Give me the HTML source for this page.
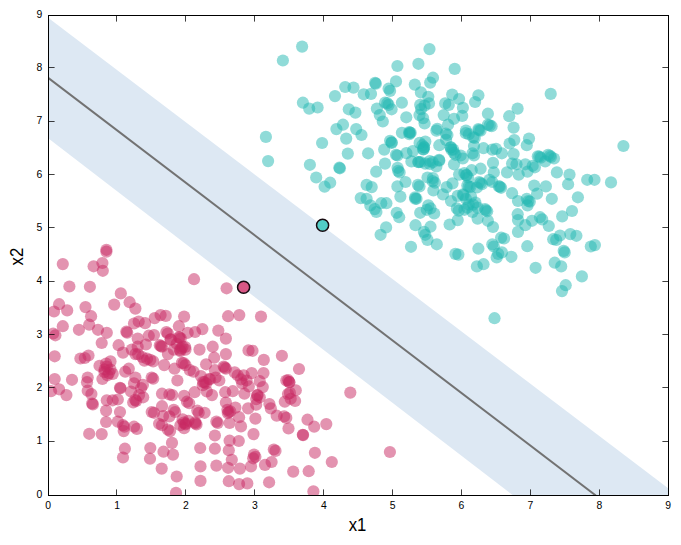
<!DOCTYPE html><html><head><meta charset="utf-8"><style>html,body{margin:0;padding:0;background:#fff}svg{display:block}text{font-family:"Liberation Sans",sans-serif;fill:#000}</style></head><body>
<svg width="681" height="545" viewBox="0 0 681 545">
<rect width="681" height="545" fill="#fff"/>
<defs><clipPath id="c"><rect x="48.5" y="15.5" width="620.0" height="480.0"/></clipPath></defs>
<g clip-path="url(#c)">
<polygon points="48.5,18 668.5,488.4 668.5,495.5 513.2,495.5 48.5,138.6" fill="#dde8f3"/>
<line x1="48.5" y1="78.1" x2="595.8" y2="495.5" stroke="#727272" stroke-width="2.0"/>
<g fill="#c82762" fill-opacity="0.5">
<circle cx="106.4" cy="249.8" r="6.1"/>
<circle cx="106.4" cy="251.7" r="6.1"/>
<circle cx="62.8" cy="264.1" r="6.1"/>
<circle cx="93.6" cy="266.3" r="6.1"/>
<circle cx="102.4" cy="263.0" r="6.1"/>
<circle cx="102.8" cy="270.8" r="6.1"/>
<circle cx="69.4" cy="286.5" r="6.1"/>
<circle cx="89.9" cy="286.8" r="6.1"/>
<circle cx="120.8" cy="293.4" r="6.1"/>
<circle cx="59.1" cy="304.2" r="6.1"/>
<circle cx="85.5" cy="307.1" r="6.1"/>
<circle cx="114.2" cy="304.6" r="6.1"/>
<circle cx="129.6" cy="302.2" r="6.1"/>
<circle cx="135.4" cy="308.6" r="6.1"/>
<circle cx="194.0" cy="279.2" r="6.1"/>
<circle cx="226.6" cy="288.3" r="6.1"/>
<circle cx="54.0" cy="311.5" r="6.1"/>
<circle cx="67.2" cy="310.4" r="6.1"/>
<circle cx="91.1" cy="316.2" r="6.1"/>
<circle cx="62.8" cy="326.2" r="6.1"/>
<circle cx="78.9" cy="329.8" r="6.1"/>
<circle cx="89.2" cy="324.7" r="6.1"/>
<circle cx="98.0" cy="329.8" r="6.1"/>
<circle cx="106.8" cy="332.8" r="6.1"/>
<circle cx="53.2" cy="333.5" r="6.1"/>
<circle cx="55.4" cy="335.3" r="6.1"/>
<circle cx="126.3" cy="331.7" r="6.1"/>
<circle cx="127.2" cy="332.6" r="6.1"/>
<circle cx="138.7" cy="321.5" r="6.1"/>
<circle cx="134.0" cy="323.5" r="6.1"/>
<circle cx="101.7" cy="343.0" r="6.1"/>
<circle cx="118.6" cy="345.2" r="6.1"/>
<circle cx="123.0" cy="352.6" r="6.1"/>
<circle cx="54.7" cy="356.3" r="6.1"/>
<circle cx="80.4" cy="358.5" r="6.1"/>
<circle cx="84.8" cy="358.0" r="6.1"/>
<circle cx="88.5" cy="355.5" r="6.1"/>
<circle cx="137.7" cy="338.6" r="6.1"/>
<circle cx="131.8" cy="349.6" r="6.1"/>
<circle cx="135.4" cy="354.1" r="6.1"/>
<circle cx="137.7" cy="346.7" r="6.1"/>
<circle cx="99.5" cy="365.8" r="6.1"/>
<circle cx="106.1" cy="363.6" r="6.1"/>
<circle cx="110.5" cy="361.4" r="6.1"/>
<circle cx="104.6" cy="369.5" r="6.1"/>
<circle cx="110.5" cy="369.5" r="6.1"/>
<circle cx="107.5" cy="375.3" r="6.1"/>
<circle cx="112.7" cy="373.9" r="6.1"/>
<circle cx="102.4" cy="379.0" r="6.1"/>
<circle cx="106.8" cy="366.5" r="6.1"/>
<circle cx="109.0" cy="373.1" r="6.1"/>
<circle cx="120.5" cy="388.3" r="6.1"/>
<circle cx="125.2" cy="371.7" r="6.1"/>
<circle cx="128.8" cy="368.7" r="6.1"/>
<circle cx="54.7" cy="379.0" r="6.1"/>
<circle cx="72.0" cy="379.8" r="6.1"/>
<circle cx="87.7" cy="377.5" r="6.1"/>
<circle cx="87.0" cy="382.2" r="6.1"/>
<circle cx="120.0" cy="387.8" r="6.1"/>
<circle cx="135.4" cy="377.5" r="6.1"/>
<circle cx="134.0" cy="383.4" r="6.1"/>
<circle cx="59.1" cy="389.3" r="6.1"/>
<circle cx="145.1" cy="323.2" r="6.1"/>
<circle cx="154.7" cy="318.1" r="6.1"/>
<circle cx="160.6" cy="315.1" r="6.1"/>
<circle cx="165.7" cy="315.9" r="6.1"/>
<circle cx="184.1" cy="316.6" r="6.1"/>
<circle cx="178.9" cy="326.2" r="6.1"/>
<circle cx="228.1" cy="316.2" r="6.1"/>
<circle cx="166.4" cy="332.0" r="6.1"/>
<circle cx="167.9" cy="333.5" r="6.1"/>
<circle cx="195.1" cy="332.0" r="6.1"/>
<circle cx="202.4" cy="329.1" r="6.1"/>
<circle cx="187.7" cy="332.8" r="6.1"/>
<circle cx="218.3" cy="330.6" r="6.1"/>
<circle cx="225.9" cy="338.6" r="6.1"/>
<circle cx="148.8" cy="335.7" r="6.1"/>
<circle cx="154.0" cy="335.0" r="6.1"/>
<circle cx="145.9" cy="344.5" r="6.1"/>
<circle cx="159.8" cy="345.2" r="6.1"/>
<circle cx="162.0" cy="346.7" r="6.1"/>
<circle cx="178.9" cy="337.2" r="6.1"/>
<circle cx="176.7" cy="343.8" r="6.1"/>
<circle cx="182.6" cy="346.7" r="6.1"/>
<circle cx="180.4" cy="351.1" r="6.1"/>
<circle cx="185.5" cy="349.6" r="6.1"/>
<circle cx="173.8" cy="349.6" r="6.1"/>
<circle cx="170.8" cy="339.4" r="6.1"/>
<circle cx="167.9" cy="354.1" r="6.1"/>
<circle cx="199.5" cy="349.6" r="6.1"/>
<circle cx="212.7" cy="346.7" r="6.1"/>
<circle cx="225.9" cy="354.1" r="6.1"/>
<circle cx="214.2" cy="357.7" r="6.1"/>
<circle cx="206.1" cy="364.3" r="6.1"/>
<circle cx="142.2" cy="357.0" r="6.1"/>
<circle cx="144.4" cy="360.7" r="6.1"/>
<circle cx="150.3" cy="359.9" r="6.1"/>
<circle cx="153.2" cy="361.4" r="6.1"/>
<circle cx="164.2" cy="365.1" r="6.1"/>
<circle cx="174.5" cy="368.7" r="6.1"/>
<circle cx="181.9" cy="362.9" r="6.1"/>
<circle cx="185.5" cy="365.1" r="6.1"/>
<circle cx="189.9" cy="370.2" r="6.1"/>
<circle cx="193.6" cy="371.7" r="6.1"/>
<circle cx="223.7" cy="366.5" r="6.1"/>
<circle cx="225.9" cy="368.7" r="6.1"/>
<circle cx="214.9" cy="370.2" r="6.1"/>
<circle cx="151.7" cy="377.5" r="6.1"/>
<circle cx="153.2" cy="378.7" r="6.1"/>
<circle cx="177.4" cy="380.5" r="6.1"/>
<circle cx="200.9" cy="376.1" r="6.1"/>
<circle cx="234.7" cy="372.4" r="6.1"/>
<circle cx="237.7" cy="375.3" r="6.1"/>
<circle cx="203.1" cy="382.0" r="6.1"/>
<circle cx="206.1" cy="383.4" r="6.1"/>
<circle cx="209.0" cy="379.0" r="6.1"/>
<circle cx="215.6" cy="377.5" r="6.1"/>
<circle cx="219.3" cy="380.5" r="6.1"/>
<circle cx="142.9" cy="384.9" r="6.1"/>
<circle cx="179.6" cy="337.6" r="6.1"/>
<circle cx="180.8" cy="338.6" r="6.1"/>
<circle cx="181.4" cy="348.5" r="6.1"/>
<circle cx="179.9" cy="349.9" r="6.1"/>
<circle cx="160.9" cy="346.1" r="6.1"/>
<circle cx="204.6" cy="382.2" r="6.1"/>
<circle cx="224.7" cy="367.6" r="6.1"/>
<circle cx="239.3" cy="315.1" r="6.1"/>
<circle cx="261.0" cy="316.6" r="6.1"/>
<circle cx="248.5" cy="350.4" r="6.1"/>
<circle cx="252.5" cy="350.8" r="6.1"/>
<circle cx="263.8" cy="359.9" r="6.1"/>
<circle cx="281.9" cy="355.8" r="6.1"/>
<circle cx="299.0" cy="369.0" r="6.1"/>
<circle cx="251.7" cy="373.1" r="6.1"/>
<circle cx="263.5" cy="373.1" r="6.1"/>
<circle cx="243.7" cy="375.3" r="6.1"/>
<circle cx="286.3" cy="380.5" r="6.1"/>
<circle cx="289.2" cy="382.0" r="6.1"/>
<circle cx="288.2" cy="380.2" r="6.1"/>
<circle cx="259.8" cy="381.2" r="6.1"/>
<circle cx="262.8" cy="387.1" r="6.1"/>
<circle cx="246.6" cy="380.5" r="6.1"/>
<circle cx="242.2" cy="383.4" r="6.1"/>
<circle cx="248.8" cy="386.4" r="6.1"/>
<circle cx="51.0" cy="391.2" r="6.1"/>
<circle cx="66.4" cy="395.1" r="6.1"/>
<circle cx="87.7" cy="390.7" r="6.1"/>
<circle cx="91.4" cy="394.1" r="6.1"/>
<circle cx="92.1" cy="403.5" r="6.1"/>
<circle cx="92.9" cy="404.4" r="6.1"/>
<circle cx="106.8" cy="400.3" r="6.1"/>
<circle cx="112.7" cy="400.3" r="6.1"/>
<circle cx="117.8" cy="399.5" r="6.1"/>
<circle cx="133.2" cy="402.5" r="6.1"/>
<circle cx="136.2" cy="401.0" r="6.1"/>
<circle cx="131.0" cy="391.5" r="6.1"/>
<circle cx="139.1" cy="395.1" r="6.1"/>
<circle cx="106.1" cy="410.6" r="6.1"/>
<circle cx="120.0" cy="412.0" r="6.1"/>
<circle cx="106.1" cy="422.0" r="6.1"/>
<circle cx="117.8" cy="421.6" r="6.1"/>
<circle cx="123.0" cy="425.2" r="6.1"/>
<circle cx="124.4" cy="426.7" r="6.1"/>
<circle cx="123.7" cy="431.1" r="6.1"/>
<circle cx="134.0" cy="426.7" r="6.1"/>
<circle cx="136.9" cy="428.9" r="6.1"/>
<circle cx="89.2" cy="433.8" r="6.1"/>
<circle cx="101.7" cy="434.1" r="6.1"/>
<circle cx="124.9" cy="448.7" r="6.1"/>
<circle cx="123.0" cy="457.5" r="6.1"/>
<circle cx="143.2" cy="397.3" r="6.1"/>
<circle cx="162.0" cy="393.7" r="6.1"/>
<circle cx="169.4" cy="394.4" r="6.1"/>
<circle cx="172.3" cy="395.1" r="6.1"/>
<circle cx="184.1" cy="395.9" r="6.1"/>
<circle cx="194.6" cy="392.2" r="6.1"/>
<circle cx="187.0" cy="401.7" r="6.1"/>
<circle cx="189.2" cy="403.2" r="6.1"/>
<circle cx="206.8" cy="391.5" r="6.1"/>
<circle cx="212.0" cy="395.1" r="6.1"/>
<circle cx="225.2" cy="392.2" r="6.1"/>
<circle cx="232.8" cy="391.2" r="6.1"/>
<circle cx="225.9" cy="402.5" r="6.1"/>
<circle cx="227.4" cy="409.8" r="6.1"/>
<circle cx="230.3" cy="411.3" r="6.1"/>
<circle cx="228.8" cy="412.0" r="6.1"/>
<circle cx="235.4" cy="407.6" r="6.1"/>
<circle cx="151.7" cy="412.0" r="6.1"/>
<circle cx="154.0" cy="412.8" r="6.1"/>
<circle cx="162.0" cy="406.2" r="6.1"/>
<circle cx="173.8" cy="409.8" r="6.1"/>
<circle cx="175.2" cy="412.0" r="6.1"/>
<circle cx="169.4" cy="416.4" r="6.1"/>
<circle cx="197.3" cy="410.6" r="6.1"/>
<circle cx="198.7" cy="412.8" r="6.1"/>
<circle cx="204.6" cy="412.8" r="6.1"/>
<circle cx="159.1" cy="423.8" r="6.1"/>
<circle cx="162.0" cy="425.2" r="6.1"/>
<circle cx="167.9" cy="429.6" r="6.1"/>
<circle cx="170.1" cy="431.1" r="6.1"/>
<circle cx="182.6" cy="419.4" r="6.1"/>
<circle cx="180.4" cy="425.2" r="6.1"/>
<circle cx="185.5" cy="424.5" r="6.1"/>
<circle cx="188.5" cy="420.8" r="6.1"/>
<circle cx="184.1" cy="428.2" r="6.1"/>
<circle cx="195.1" cy="422.3" r="6.1"/>
<circle cx="196.5" cy="424.5" r="6.1"/>
<circle cx="216.4" cy="421.6" r="6.1"/>
<circle cx="217.8" cy="423.0" r="6.1"/>
<circle cx="229.6" cy="423.0" r="6.1"/>
<circle cx="239.1" cy="417.2" r="6.1"/>
<circle cx="241.0" cy="426.4" r="6.1"/>
<circle cx="214.9" cy="435.5" r="6.1"/>
<circle cx="172.0" cy="442.9" r="6.1"/>
<circle cx="150.3" cy="448.0" r="6.1"/>
<circle cx="163.5" cy="451.7" r="6.1"/>
<circle cx="173.0" cy="454.6" r="6.1"/>
<circle cx="200.2" cy="448.0" r="6.1"/>
<circle cx="214.9" cy="448.7" r="6.1"/>
<circle cx="229.6" cy="440.7" r="6.1"/>
<circle cx="238.8" cy="441.0" r="6.1"/>
<circle cx="228.8" cy="450.2" r="6.1"/>
<circle cx="150.0" cy="458.7" r="6.1"/>
<circle cx="231.8" cy="459.8" r="6.1"/>
<circle cx="161.7" cy="468.6" r="6.1"/>
<circle cx="200.5" cy="466.4" r="6.1"/>
<circle cx="216.4" cy="465.6" r="6.1"/>
<circle cx="228.1" cy="467.8" r="6.1"/>
<circle cx="239.9" cy="468.6" r="6.1"/>
<circle cx="183.8" cy="422.6" r="6.1"/>
<circle cx="185.8" cy="423.5" r="6.1"/>
<circle cx="195.5" cy="423.5" r="6.1"/>
<circle cx="244.4" cy="393.7" r="6.1"/>
<circle cx="257.6" cy="395.1" r="6.1"/>
<circle cx="259.8" cy="397.3" r="6.1"/>
<circle cx="256.2" cy="399.1" r="6.1"/>
<circle cx="256.2" cy="404.7" r="6.1"/>
<circle cx="248.1" cy="408.4" r="6.1"/>
<circle cx="269.4" cy="404.0" r="6.1"/>
<circle cx="270.8" cy="408.4" r="6.1"/>
<circle cx="295.8" cy="390.3" r="6.1"/>
<circle cx="289.9" cy="392.9" r="6.1"/>
<circle cx="284.8" cy="401.7" r="6.1"/>
<circle cx="290.7" cy="398.8" r="6.1"/>
<circle cx="295.1" cy="401.0" r="6.1"/>
<circle cx="276.7" cy="415.7" r="6.1"/>
<circle cx="284.1" cy="416.4" r="6.1"/>
<circle cx="286.3" cy="417.9" r="6.1"/>
<circle cx="255.4" cy="418.6" r="6.1"/>
<circle cx="288.5" cy="428.5" r="6.1"/>
<circle cx="307.5" cy="419.7" r="6.1"/>
<circle cx="314.2" cy="426.7" r="6.1"/>
<circle cx="326.3" cy="424.1" r="6.1"/>
<circle cx="302.8" cy="434.8" r="6.1"/>
<circle cx="303.1" cy="435.1" r="6.1"/>
<circle cx="253.5" cy="434.1" r="6.1"/>
<circle cx="273.8" cy="449.5" r="6.1"/>
<circle cx="275.5" cy="450.9" r="6.1"/>
<circle cx="254.0" cy="454.6" r="6.1"/>
<circle cx="255.4" cy="456.8" r="6.1"/>
<circle cx="253.2" cy="458.3" r="6.1"/>
<circle cx="314.9" cy="452.8" r="6.1"/>
<circle cx="331.8" cy="462.0" r="6.1"/>
<circle cx="271.6" cy="462.0" r="6.1"/>
<circle cx="265.0" cy="464.9" r="6.1"/>
<circle cx="251.0" cy="466.4" r="6.1"/>
<circle cx="350.3" cy="392.6" r="6.1"/>
<circle cx="389.9" cy="452.0" r="6.1"/>
<circle cx="176.7" cy="476.5" r="6.1"/>
<circle cx="200.5" cy="480.9" r="6.1"/>
<circle cx="228.8" cy="481.2" r="6.1"/>
<circle cx="239.1" cy="484.1" r="6.1"/>
<circle cx="176.0" cy="492.9" r="6.1"/>
<circle cx="247.3" cy="483.4" r="6.1"/>
<circle cx="293.2" cy="471.6" r="6.1"/>
<circle cx="308.7" cy="471.2" r="6.1"/>
<circle cx="269.1" cy="482.3" r="6.1"/>
<circle cx="313.4" cy="491.4" r="6.1"/>
<circle cx="170.5" cy="339.6" r="6.1"/>
<circle cx="185.2" cy="347.0" r="6.1"/>
<circle cx="138.2" cy="354.3" r="6.1"/>
<circle cx="147.0" cy="358.7" r="6.1"/>
<circle cx="135.2" cy="399.9" r="6.1"/>
<circle cx="210.1" cy="379.3" r="6.1"/>
<circle cx="202.8" cy="385.2" r="6.1"/>
<circle cx="227.8" cy="413.1" r="6.1"/>
<circle cx="104.4" cy="372.0" r="6.1"/>
<circle cx="257.1" cy="395.4" r="6.1"/>
<circle cx="289.4" cy="382.2" r="6.1"/>
<circle cx="288.0" cy="394.0" r="6.1"/>
<circle cx="141.1" cy="388.1" r="6.1"/>
<circle cx="241.0" cy="379.3" r="6.1"/>
<circle cx="163.1" cy="416.0" r="6.1"/>
<circle cx="183.7" cy="363.1" r="6.1"/>
</g>
<g fill="#22b8b1" fill-opacity="0.5">
<circle cx="302.1" cy="46.6" r="6.1"/>
<circle cx="282.9" cy="60.5" r="6.1"/>
<circle cx="345.2" cy="87.0" r="6.1"/>
<circle cx="353.5" cy="87.6" r="6.1"/>
<circle cx="335.0" cy="96.1" r="6.1"/>
<circle cx="302.9" cy="102.7" r="6.1"/>
<circle cx="309.2" cy="108.6" r="6.1"/>
<circle cx="317.6" cy="107.5" r="6.1"/>
<circle cx="348.8" cy="109.3" r="6.1"/>
<circle cx="429.5" cy="49.1" r="6.1"/>
<circle cx="397.4" cy="66.0" r="6.1"/>
<circle cx="418.4" cy="63.8" r="6.1"/>
<circle cx="454.7" cy="68.9" r="6.1"/>
<circle cx="433.0" cy="77.7" r="6.1"/>
<circle cx="430.2" cy="82.6" r="6.1"/>
<circle cx="396.0" cy="81.4" r="6.1"/>
<circle cx="375.1" cy="82.9" r="6.1"/>
<circle cx="375.9" cy="83.7" r="6.1"/>
<circle cx="414.8" cy="84.6" r="6.1"/>
<circle cx="388.6" cy="88.7" r="6.1"/>
<circle cx="390.1" cy="90.9" r="6.1"/>
<circle cx="420.9" cy="92.4" r="6.1"/>
<circle cx="363.7" cy="94.3" r="6.1"/>
<circle cx="371.0" cy="93.9" r="6.1"/>
<circle cx="452.2" cy="94.6" r="6.1"/>
<circle cx="428.3" cy="96.8" r="6.1"/>
<circle cx="401.9" cy="102.7" r="6.1"/>
<circle cx="385.0" cy="102.7" r="6.1"/>
<circle cx="388.6" cy="104.9" r="6.1"/>
<circle cx="445.2" cy="103.4" r="6.1"/>
<circle cx="448.8" cy="104.9" r="6.1"/>
<circle cx="420.2" cy="104.9" r="6.1"/>
<circle cx="424.6" cy="105.6" r="6.1"/>
<circle cx="429.0" cy="103.4" r="6.1"/>
<circle cx="376.9" cy="108.6" r="6.1"/>
<circle cx="391.6" cy="109.3" r="6.1"/>
<circle cx="459.1" cy="99.0" r="6.1"/>
<circle cx="550.7" cy="93.9" r="6.1"/>
<circle cx="478.4" cy="95.3" r="6.1"/>
<circle cx="475.1" cy="102.0" r="6.1"/>
<circle cx="462.9" cy="107.8" r="6.1"/>
<circle cx="517.6" cy="108.6" r="6.1"/>
<circle cx="355.4" cy="112.6" r="6.1"/>
<circle cx="265.9" cy="136.9" r="6.1"/>
<circle cx="268.1" cy="161.1" r="6.1"/>
<circle cx="336.4" cy="129.1" r="6.1"/>
<circle cx="343.0" cy="124.7" r="6.1"/>
<circle cx="322.1" cy="143.0" r="6.1"/>
<circle cx="346.2" cy="138.6" r="6.1"/>
<circle cx="356.2" cy="129.1" r="6.1"/>
<circle cx="347.8" cy="153.6" r="6.1"/>
<circle cx="309.9" cy="164.8" r="6.1"/>
<circle cx="339.3" cy="167.7" r="6.1"/>
<circle cx="339.9" cy="168.3" r="6.1"/>
<circle cx="316.2" cy="177.5" r="6.1"/>
<circle cx="330.2" cy="182.7" r="6.1"/>
<circle cx="324.6" cy="186.7" r="6.1"/>
<circle cx="361.5" cy="135.0" r="6.1"/>
<circle cx="379.8" cy="115.1" r="6.1"/>
<circle cx="382.8" cy="121.5" r="6.1"/>
<circle cx="406.3" cy="117.3" r="6.1"/>
<circle cx="419.5" cy="115.1" r="6.1"/>
<circle cx="423.1" cy="118.1" r="6.1"/>
<circle cx="424.6" cy="123.5" r="6.1"/>
<circle cx="443.7" cy="115.1" r="6.1"/>
<circle cx="454.0" cy="118.8" r="6.1"/>
<circle cx="448.1" cy="124.7" r="6.1"/>
<circle cx="436.4" cy="130.6" r="6.1"/>
<circle cx="409.2" cy="132.0" r="6.1"/>
<circle cx="410.7" cy="132.8" r="6.1"/>
<circle cx="401.9" cy="132.8" r="6.1"/>
<circle cx="445.9" cy="133.5" r="6.1"/>
<circle cx="447.4" cy="135.0" r="6.1"/>
<circle cx="390.1" cy="140.8" r="6.1"/>
<circle cx="391.6" cy="142.3" r="6.1"/>
<circle cx="384.2" cy="149.6" r="6.1"/>
<circle cx="368.1" cy="153.3" r="6.1"/>
<circle cx="396.0" cy="154.8" r="6.1"/>
<circle cx="397.4" cy="155.5" r="6.1"/>
<circle cx="422.4" cy="145.2" r="6.1"/>
<circle cx="423.9" cy="147.4" r="6.1"/>
<circle cx="423.1" cy="149.4" r="6.1"/>
<circle cx="425.3" cy="141.6" r="6.1"/>
<circle cx="439.3" cy="145.2" r="6.1"/>
<circle cx="412.9" cy="151.1" r="6.1"/>
<circle cx="411.4" cy="161.4" r="6.1"/>
<circle cx="451.0" cy="147.4" r="6.1"/>
<circle cx="453.2" cy="149.6" r="6.1"/>
<circle cx="454.0" cy="152.9" r="6.1"/>
<circle cx="385.0" cy="163.6" r="6.1"/>
<circle cx="418.7" cy="162.1" r="6.1"/>
<circle cx="425.3" cy="163.6" r="6.1"/>
<circle cx="432.7" cy="162.1" r="6.1"/>
<circle cx="439.3" cy="160.7" r="6.1"/>
<circle cx="436.4" cy="166.5" r="6.1"/>
<circle cx="454.0" cy="164.3" r="6.1"/>
<circle cx="376.2" cy="171.7" r="6.1"/>
<circle cx="398.2" cy="170.9" r="6.1"/>
<circle cx="399.6" cy="172.4" r="6.1"/>
<circle cx="405.5" cy="182.0" r="6.1"/>
<circle cx="366.6" cy="184.9" r="6.1"/>
<circle cx="371.7" cy="187.1" r="6.1"/>
<circle cx="397.4" cy="186.4" r="6.1"/>
<circle cx="418.0" cy="184.9" r="6.1"/>
<circle cx="419.5" cy="186.4" r="6.1"/>
<circle cx="432.7" cy="181.2" r="6.1"/>
<circle cx="434.9" cy="182.7" r="6.1"/>
<circle cx="427.5" cy="177.5" r="6.1"/>
<circle cx="452.5" cy="183.4" r="6.1"/>
<circle cx="446.6" cy="187.1" r="6.1"/>
<circle cx="459.1" cy="174.6" r="6.1"/>
<circle cx="462.2" cy="115.9" r="6.1"/>
<circle cx="487.9" cy="113.7" r="6.1"/>
<circle cx="509.2" cy="116.2" r="6.1"/>
<circle cx="487.9" cy="124.7" r="6.1"/>
<circle cx="491.6" cy="126.2" r="6.1"/>
<circle cx="513.6" cy="127.6" r="6.1"/>
<circle cx="478.4" cy="129.1" r="6.1"/>
<circle cx="480.6" cy="130.6" r="6.1"/>
<circle cx="465.9" cy="130.6" r="6.1"/>
<circle cx="468.8" cy="134.2" r="6.1"/>
<circle cx="473.2" cy="137.2" r="6.1"/>
<circle cx="474.7" cy="137.9" r="6.1"/>
<circle cx="529.0" cy="138.6" r="6.1"/>
<circle cx="526.8" cy="145.2" r="6.1"/>
<circle cx="514.3" cy="140.1" r="6.1"/>
<circle cx="509.6" cy="143.5" r="6.1"/>
<circle cx="474.0" cy="146.0" r="6.1"/>
<circle cx="483.5" cy="148.2" r="6.1"/>
<circle cx="492.3" cy="149.6" r="6.1"/>
<circle cx="496.0" cy="148.9" r="6.1"/>
<circle cx="501.9" cy="153.3" r="6.1"/>
<circle cx="472.5" cy="153.3" r="6.1"/>
<circle cx="474.0" cy="155.5" r="6.1"/>
<circle cx="460.7" cy="155.5" r="6.1"/>
<circle cx="462.9" cy="158.5" r="6.1"/>
<circle cx="513.6" cy="154.1" r="6.1"/>
<circle cx="537.8" cy="156.3" r="6.1"/>
<circle cx="540.8" cy="157.7" r="6.1"/>
<circle cx="548.1" cy="154.8" r="6.1"/>
<circle cx="551.0" cy="157.0" r="6.1"/>
<circle cx="554.0" cy="158.5" r="6.1"/>
<circle cx="545.2" cy="161.4" r="6.1"/>
<circle cx="493.0" cy="162.9" r="6.1"/>
<circle cx="512.1" cy="163.6" r="6.1"/>
<circle cx="516.5" cy="164.3" r="6.1"/>
<circle cx="525.3" cy="164.3" r="6.1"/>
<circle cx="532.7" cy="165.8" r="6.1"/>
<circle cx="534.9" cy="167.3" r="6.1"/>
<circle cx="480.6" cy="168.7" r="6.1"/>
<circle cx="471.7" cy="170.2" r="6.1"/>
<circle cx="493.8" cy="172.4" r="6.1"/>
<circle cx="507.0" cy="172.4" r="6.1"/>
<circle cx="518.7" cy="174.6" r="6.1"/>
<circle cx="527.5" cy="171.7" r="6.1"/>
<circle cx="556.9" cy="172.4" r="6.1"/>
<circle cx="464.4" cy="173.1" r="6.1"/>
<circle cx="466.6" cy="175.3" r="6.1"/>
<circle cx="468.1" cy="177.5" r="6.1"/>
<circle cx="489.4" cy="179.8" r="6.1"/>
<circle cx="492.3" cy="182.0" r="6.1"/>
<circle cx="479.1" cy="182.0" r="6.1"/>
<circle cx="482.0" cy="184.2" r="6.1"/>
<circle cx="467.3" cy="185.6" r="6.1"/>
<circle cx="470.3" cy="187.1" r="6.1"/>
<circle cx="498.9" cy="186.4" r="6.1"/>
<circle cx="501.1" cy="187.8" r="6.1"/>
<circle cx="534.2" cy="185.6" r="6.1"/>
<circle cx="545.9" cy="186.4" r="6.1"/>
<circle cx="623.4" cy="146.0" r="6.1"/>
<circle cx="569.5" cy="174.6" r="6.1"/>
<circle cx="568.1" cy="184.2" r="6.1"/>
<circle cx="587.2" cy="179.8" r="6.1"/>
<circle cx="594.5" cy="179.8" r="6.1"/>
<circle cx="611.0" cy="182.4" r="6.1"/>
<circle cx="360.7" cy="198.1" r="6.1"/>
<circle cx="366.6" cy="198.8" r="6.1"/>
<circle cx="400.4" cy="196.6" r="6.1"/>
<circle cx="415.1" cy="197.3" r="6.1"/>
<circle cx="416.5" cy="198.8" r="6.1"/>
<circle cx="433.4" cy="190.4" r="6.1"/>
<circle cx="443.0" cy="194.4" r="6.1"/>
<circle cx="451.0" cy="201.0" r="6.1"/>
<circle cx="457.7" cy="195.9" r="6.1"/>
<circle cx="456.9" cy="208.4" r="6.1"/>
<circle cx="458.7" cy="210.6" r="6.1"/>
<circle cx="457.7" cy="220.1" r="6.1"/>
<circle cx="381.3" cy="203.2" r="6.1"/>
<circle cx="386.4" cy="203.2" r="6.1"/>
<circle cx="370.3" cy="205.4" r="6.1"/>
<circle cx="374.7" cy="209.1" r="6.1"/>
<circle cx="376.4" cy="212.0" r="6.1"/>
<circle cx="428.3" cy="205.4" r="6.1"/>
<circle cx="426.8" cy="209.8" r="6.1"/>
<circle cx="430.5" cy="208.4" r="6.1"/>
<circle cx="420.2" cy="212.8" r="6.1"/>
<circle cx="434.2" cy="213.5" r="6.1"/>
<circle cx="396.7" cy="212.8" r="6.1"/>
<circle cx="399.2" cy="217.2" r="6.1"/>
<circle cx="449.6" cy="224.5" r="6.1"/>
<circle cx="415.5" cy="225.2" r="6.1"/>
<circle cx="386.1" cy="227.4" r="6.1"/>
<circle cx="380.6" cy="234.8" r="6.1"/>
<circle cx="430.5" cy="226.7" r="6.1"/>
<circle cx="423.9" cy="231.9" r="6.1"/>
<circle cx="425.3" cy="234.8" r="6.1"/>
<circle cx="427.5" cy="239.9" r="6.1"/>
<circle cx="436.8" cy="244.3" r="6.1"/>
<circle cx="411.0" cy="246.8" r="6.1"/>
<circle cx="455.4" cy="253.9" r="6.1"/>
<circle cx="458.4" cy="254.6" r="6.1"/>
<circle cx="463.7" cy="195.1" r="6.1"/>
<circle cx="471.0" cy="196.6" r="6.1"/>
<circle cx="475.4" cy="202.5" r="6.1"/>
<circle cx="468.8" cy="204.7" r="6.1"/>
<circle cx="464.4" cy="209.8" r="6.1"/>
<circle cx="472.5" cy="212.0" r="6.1"/>
<circle cx="477.6" cy="207.6" r="6.1"/>
<circle cx="485.0" cy="209.1" r="6.1"/>
<circle cx="487.2" cy="211.3" r="6.1"/>
<circle cx="477.6" cy="218.6" r="6.1"/>
<circle cx="487.9" cy="220.8" r="6.1"/>
<circle cx="493.0" cy="227.0" r="6.1"/>
<circle cx="512.1" cy="193.2" r="6.1"/>
<circle cx="518.0" cy="201.0" r="6.1"/>
<circle cx="526.8" cy="198.8" r="6.1"/>
<circle cx="529.8" cy="201.7" r="6.1"/>
<circle cx="527.5" cy="205.4" r="6.1"/>
<circle cx="537.1" cy="193.7" r="6.1"/>
<circle cx="551.8" cy="198.8" r="6.1"/>
<circle cx="517.7" cy="214.2" r="6.1"/>
<circle cx="518.0" cy="220.1" r="6.1"/>
<circle cx="532.0" cy="220.8" r="6.1"/>
<circle cx="525.3" cy="225.2" r="6.1"/>
<circle cx="540.0" cy="217.2" r="6.1"/>
<circle cx="542.2" cy="219.4" r="6.1"/>
<circle cx="548.8" cy="226.0" r="6.1"/>
<circle cx="518.0" cy="231.9" r="6.1"/>
<circle cx="501.1" cy="237.7" r="6.1"/>
<circle cx="504.1" cy="238.5" r="6.1"/>
<circle cx="492.3" cy="244.3" r="6.1"/>
<circle cx="493.8" cy="246.5" r="6.1"/>
<circle cx="527.3" cy="246.2" r="6.1"/>
<circle cx="478.4" cy="248.7" r="6.1"/>
<circle cx="553.2" cy="239.2" r="6.1"/>
<circle cx="556.2" cy="239.9" r="6.1"/>
<circle cx="498.2" cy="253.9" r="6.1"/>
<circle cx="501.9" cy="252.4" r="6.1"/>
<circle cx="511.4" cy="256.8" r="6.1"/>
<circle cx="554.7" cy="262.7" r="6.1"/>
<circle cx="476.9" cy="266.4" r="6.1"/>
<circle cx="483.5" cy="264.2" r="6.1"/>
<circle cx="535.6" cy="267.8" r="6.1"/>
<circle cx="496.7" cy="257.5" r="6.1"/>
<circle cx="577.9" cy="197.3" r="6.1"/>
<circle cx="572.0" cy="211.0" r="6.1"/>
<circle cx="562.2" cy="216.4" r="6.1"/>
<circle cx="570.3" cy="234.1" r="6.1"/>
<circle cx="576.4" cy="235.8" r="6.1"/>
<circle cx="560.0" cy="235.5" r="6.1"/>
<circle cx="590.8" cy="246.5" r="6.1"/>
<circle cx="594.9" cy="245.1" r="6.1"/>
<circle cx="563.7" cy="250.9" r="6.1"/>
<circle cx="564.7" cy="252.4" r="6.1"/>
<circle cx="561.2" cy="266.4" r="6.1"/>
<circle cx="494.5" cy="318.2" r="6.1"/>
<circle cx="581.9" cy="276.4" r="6.1"/>
<circle cx="565.7" cy="285.2" r="6.1"/>
<circle cx="562.0" cy="291.1" r="6.1"/>
<circle cx="409.8" cy="132.7" r="6.1"/>
<circle cx="423.6" cy="149.2" r="6.1"/>
<circle cx="420.6" cy="162.0" r="6.1"/>
<circle cx="429.8" cy="161.0" r="6.1"/>
<circle cx="439.1" cy="159.9" r="6.1"/>
<circle cx="451.4" cy="149.7" r="6.1"/>
<circle cx="455.5" cy="154.8" r="6.1"/>
<circle cx="465.8" cy="133.2" r="6.1"/>
<circle cx="479.1" cy="130.1" r="6.1"/>
<circle cx="489.7" cy="125.4" r="6.1"/>
<circle cx="539.3" cy="156.7" r="6.1"/>
<circle cx="549.9" cy="155.8" r="6.1"/>
<circle cx="466.2" cy="174.9" r="6.1"/>
<circle cx="499.9" cy="186.7" r="6.1"/>
<circle cx="468.8" cy="186.4" r="6.1"/>
<circle cx="480.6" cy="183.0" r="6.1"/>
<circle cx="465.9" cy="198.8" r="6.1"/>
<circle cx="473.2" cy="204.7" r="6.1"/>
<circle cx="467.3" cy="207.6" r="6.1"/>
<circle cx="462.9" cy="194.4" r="6.1"/>
<circle cx="528.3" cy="201.0" r="6.1"/>
<circle cx="485.8" cy="210.3" r="6.1"/>
<circle cx="409.4" cy="134.1" r="6.1"/>
<circle cx="424.1" cy="147.3" r="6.1"/>
<circle cx="397.6" cy="167.8" r="6.1"/>
<circle cx="418.2" cy="162.0" r="6.1"/>
<circle cx="429.9" cy="164.0" r="6.1"/>
<circle cx="450.5" cy="147.3" r="6.1"/>
<circle cx="421.1" cy="109.1" r="6.1"/>
<circle cx="387.3" cy="103.2" r="6.1"/>
<circle cx="437.3" cy="128.8" r="6.1"/>
<circle cx="406.4" cy="153.1" r="6.1"/>
<circle cx="391.7" cy="142.9" r="6.1"/>
<circle cx="432.9" cy="178.1" r="6.1"/>
<circle cx="415.2" cy="198.7" r="6.1"/>
<circle cx="476.9" cy="187.5" r="6.1"/>
<circle cx="446.1" cy="139.9" r="6.1"/>
<circle cx="419.6" cy="142.9" r="6.1"/>
</g>
<circle cx="243.6" cy="287.3" r="6.05" fill="#d85785" stroke="#160a10" stroke-width="1.5"/>
<circle cx="322.6" cy="225.3" r="6.05" fill="#52cdc6" stroke="#160a10" stroke-width="1.5"/>
</g>
<rect x="48.5" y="15.5" width="620.0" height="480.0" fill="none" stroke="#000" stroke-width="1"/>
<path d="M116.5 495.5v-6.1M116.5 15.5v6.1M48.5 441.5h6.1M668.5 441.5h-6.1M185.5 495.5v-6.1M185.5 15.5v6.1M48.5 387.5h6.1M668.5 387.5h-6.1M254.5 495.5v-6.1M254.5 15.5v6.1M48.5 334.5h6.1M668.5 334.5h-6.1M323.5 495.5v-6.1M323.5 15.5v6.1M48.5 281.5h6.1M668.5 281.5h-6.1M392.5 495.5v-6.1M392.5 15.5v6.1M48.5 227.5h6.1M668.5 227.5h-6.1M461.5 495.5v-6.1M461.5 15.5v6.1M48.5 174.5h6.1M668.5 174.5h-6.1M530.5 495.5v-6.1M530.5 15.5v6.1M48.5 121.5h6.1M668.5 121.5h-6.1M599.5 495.5v-6.1M599.5 15.5v6.1M48.5 67.5h6.1M668.5 67.5h-6.1" stroke="#000" stroke-width="0.75" fill="none"/>
<text x="48.2" y="508.8" font-size="10.4" text-anchor="middle">0</text>
<text x="42.4" y="497.7" font-size="10.4" text-anchor="end">0</text>
<text x="117.1" y="508.8" font-size="10.4" text-anchor="middle">1</text>
<text x="42.4" y="444.4" font-size="10.4" text-anchor="end">1</text>
<text x="186.0" y="508.8" font-size="10.4" text-anchor="middle">2</text>
<text x="42.4" y="391.0" font-size="10.4" text-anchor="end">2</text>
<text x="254.9" y="508.8" font-size="10.4" text-anchor="middle">3</text>
<text x="42.4" y="337.7" font-size="10.4" text-anchor="end">3</text>
<text x="323.8" y="508.8" font-size="10.4" text-anchor="middle">4</text>
<text x="42.4" y="284.4" font-size="10.4" text-anchor="end">4</text>
<text x="392.6" y="508.8" font-size="10.4" text-anchor="middle">5</text>
<text x="42.4" y="231.0" font-size="10.4" text-anchor="end">5</text>
<text x="461.5" y="508.8" font-size="10.4" text-anchor="middle">6</text>
<text x="42.4" y="177.7" font-size="10.4" text-anchor="end">6</text>
<text x="530.4" y="508.8" font-size="10.4" text-anchor="middle">7</text>
<text x="42.4" y="124.4" font-size="10.4" text-anchor="end">7</text>
<text x="599.3" y="508.8" font-size="10.4" text-anchor="middle">8</text>
<text x="42.4" y="71.0" font-size="10.4" text-anchor="end">8</text>
<text x="668.2" y="508.8" font-size="10.4" text-anchor="middle">9</text>
<text x="42.4" y="17.7" font-size="10.4" text-anchor="end">9</text>
<text transform="translate(357.5 530.6) scale(0.95 1)" font-size="17.6" text-anchor="middle">x1</text>
<text transform="translate(23 256.6) rotate(-90) scale(0.95 1)" font-size="17.6" text-anchor="middle">x2</text>
</svg></body></html>
